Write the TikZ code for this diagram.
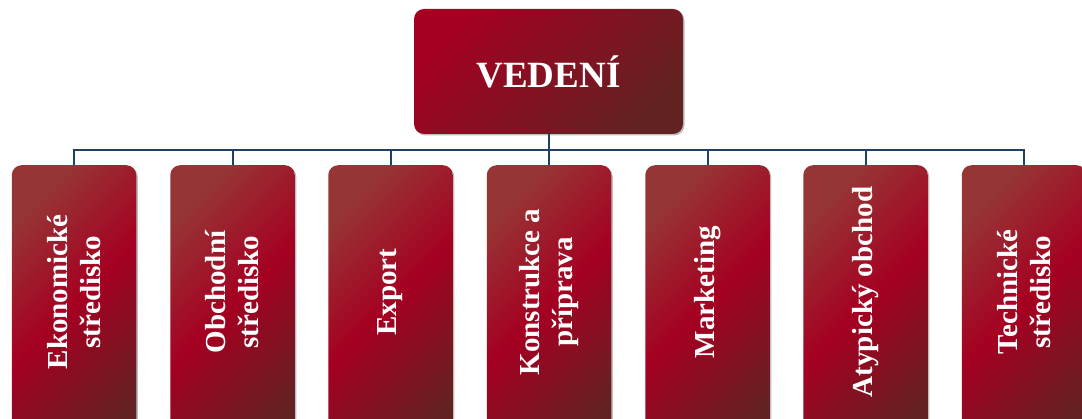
\documentclass[tikz,border=0pt]{standalone}
\usepackage{fontspec}
\setmainfont{Liberation Serif}
\usetikzlibrary{shadows,calc}
\definecolor{cA}{HTML}{963535}
\definecolor{cB}{HTML}{A50021}
\definecolor{cC}{HTML}{632222}
\definecolor{navy}{HTML}{243F64}
\pgfdeclarehorizontalshading{boxshade}{100bp}{color(0bp)=(cA); color(25bp)=(cA); color(50bp)=(cB); color(78bp)=(cC); color(100bp)=(cC)}
\pgfdeclarehorizontalshading{topshade}{100bp}{color(0bp)=(cB); color(25bp)=(cB); color(75bp)=(cC); color(100bp)=(cC)}
\begin{document}
\begin{tikzpicture}[x=1pt,y=-1pt,
  topbox/.style={rounded corners=10pt, minimum width=269pt, minimum height=125pt, inner sep=0pt,
    shading=topshade, shading angle=-45, text=white,
    font=\fontsize{37}{40}\selectfont\bfseries,
    drop shadow={shadow xshift=1.5pt, shadow yshift=-1.5pt, opacity=0.25, fill=black}},
  subbox/.style={rounded corners=10pt, minimum width=124.5pt, minimum height=280pt, inner sep=0pt,
    shading=boxshade, shading angle=-45, anchor=north,
    drop shadow={shadow xshift=1.5pt, shadow yshift=-1.5pt, opacity=0.25, fill=black}},
  lbl/.style={rotate=90, align=center, text=white, inner sep=0pt,
    font=\fontsize{29}{33}\selectfont\bfseries},
  conn/.style={draw=navy, line width=2pt}]
\useasboundingbox (0,0) rectangle (1082,419);
\clip (0,0) rectangle (1082,419);
\node[topbox] (top) at (548.5,71.5) {VEDENÍ};
\node[subbox] (b1) at (74,165) {};
\node[subbox] (b2) at (232.5,165) {};
\node[subbox] (b3) at (390.5,165) {};
\node[subbox] (b4) at (549,165) {};
\node[subbox] (b5) at (707.5,165) {};
\node[subbox] (b6) at (865.5,165) {};
\node[subbox] (b7) at (1024,165) {};
\node[lbl] (t1) at (74,292) {Ekonomické\\středisko};
\node[lbl] (t2) at (232.5,292) {Obchodní\\středisko};
\node[lbl] (t3) at (390.5,292) {Export};
\node[lbl] (t4) at (549,292) {Konstrukce a\\příprava};
\node[lbl] (t5) at (707.5,292) {Marketing};
\node[lbl] (t6) at (865.5,292) {Atypický obchod};
\node[lbl] (t7) at (1024,292) {Technické\\středisko};
\coordinate (bus) at ($(top.south)+(0,16)$);
\draw[conn] (top.south) -- (bus);
\foreach \i in {1,...,7} \draw[conn] (bus) -| (b\i.north);
\end{tikzpicture}
\end{document}
